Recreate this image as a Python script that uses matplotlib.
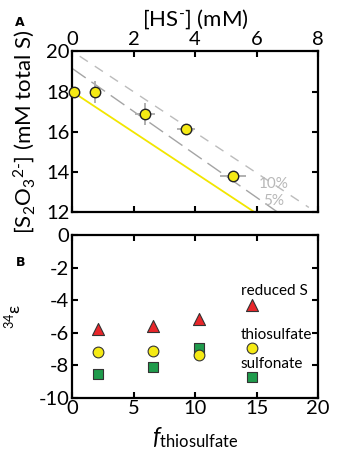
import numpy as np
import matplotlib.pyplot as plt

plt.rcParams['font.family'] = ['Lato', 'DejaVu Sans']
plt.rcParams['mathtext.fontset'] = 'custom'
plt.rcParams['mathtext.rm'] = 'Lato'
plt.rcParams['mathtext.it'] = 'Lato:italic'

# panel A data
hs = [0.05, 0.75, 2.37, 3.7, 5.24]
s2o3 = [18.0, 17.98, 16.87, 16.12, 13.8]
hs_err = [0, 0, 0.33, 0.3, 0.43]
s2o3_err = [0, 0.55, 0.55, 0, 0]
line_x = [0.0, 5.95]
line_y = [18.0, 12.0]
pct10_x = [0.25, 7.7]
pct10_y = [19.75, 12.25]
pct5_x = [0.0, 6.7]
pct5_y = [19.15, 12.0]

# panel B data
f_thio = [2.1, 6.6, 10.35, 14.6]
eps_reduced = [-5.8, -5.6, -5.15, -4.3]
eps_thio = [-7.2, -7.13, -7.37, -6.93]
eps_sulfonate = [-8.55, -8.12, -6.97, -8.75]

fig = plt.figure(figsize=(3.48, 4.55), dpi=100)

# --- panel A ---
ax1 = fig.add_axes([0.207, 0.533, 0.707, 0.3545])
ax1.plot(pct10_x, pct10_y, color='#bcbcbc', lw=1.0, dashes=(7, 6))
ax1.plot(pct5_x, pct5_y, color='#a4a4a4', lw=1.0, dashes=(12, 5))
ax1.plot(line_x, line_y, color='#f2e600', lw=1.3)
ax1.errorbar(hs, s2o3, xerr=hs_err, yerr=s2o3_err, fmt='o', ms=7.5,
             mfc='#f5ea14', mec='#222222', mew=1.0, ecolor='#b0b0b0',
             elinewidth=1.4, capsize=0, zorder=3, clip_on=False)
ax1.text(6.55, 13.4, '10%', color='#b8b8b8', fontsize=11, ha='center', va='center')
ax1.text(6.57, 12.55, '5%', color='#b8b8b8', fontsize=11, ha='center', va='center')
ax1.set_xlim(0, 8)
ax1.set_ylim(12, 20)
ax1.set_xticks([0, 2, 4, 6, 8])
ax1.set_yticks([12, 14, 16, 18, 20])
ax1.xaxis.tick_top()
ax1.xaxis.set_label_position('top')
ax1.tick_params(direction='in', top=True, bottom=True, left=True, right=True,
                labeltop=True, labelbottom=False, labelsize=14.5, length=4,
                width=1.5, pad=2)
ax1.set_xlabel(r'[HS$^{\text{-}}$] (mM)', fontsize=16, labelpad=4)
ax1.set_ylabel(r'[S$_2$O$_3$$^{2\text{-}}$] (mM total S)', fontsize=16, labelpad=6)
for sp in ax1.spines.values():
    sp.set_linewidth(1.6)
fig.text(0.058, 0.95, 'A', fontsize=9, fontweight='bold', ha='center', va='center',
         family='DejaVu Sans')

# --- panel B ---
ax2 = fig.add_axes([0.207, 0.126, 0.707, 0.3576])
ax2.scatter(f_thio, eps_reduced, marker='^', s=75, c='#e8262a', edgecolors='#333333',
            linewidths=0.8, zorder=3)
ax2.scatter(f_thio, eps_sulfonate, marker='s', s=60, c='#1f9b4c', edgecolors='#333333',
            linewidths=0.8, zorder=3)
ax2.scatter(f_thio, eps_thio, marker='o', s=60, c='#f5ea14', edgecolors='#333333',
            linewidths=0.8, zorder=4)
ax2.text(13.7, -3.45, 'reduced S', fontsize=11, ha='left', va='center')
ax2.text(13.7, -6.15, 'thiosulfate', fontsize=11, ha='left', va='center')
ax2.text(13.7, -7.93, 'sulfonate', fontsize=11, ha='left', va='center')
ax2.set_xlim(0, 20)
ax2.set_ylim(-10, 0)
ax2.set_xticks([0, 5, 10, 15, 20])
ax2.set_yticks([-10, -8, -6, -4, -2, 0])
ax2.set_yticklabels(['-10', '-8', '-6', '-4', '-2', '0'])
ax2.tick_params(direction='in', top=True, bottom=True, left=True, right=True,
                labelsize=14.5, length=4, width=1.5, pad=2)
ax2.set_xlabel(r'$f$$_{\mathrm{thiosulfate}}$', fontsize=17, labelpad=6)
ax2.set_ylabel('$^{34}$ε', fontsize=13, labelpad=10)
for sp in ax2.spines.values():
    sp.set_linewidth(1.6)
fig.text(0.058, 0.424, 'B', fontsize=9, fontweight='bold', ha='center', va='center',
         family='DejaVu Sans')

fig.savefig('out.png', dpi=100)
